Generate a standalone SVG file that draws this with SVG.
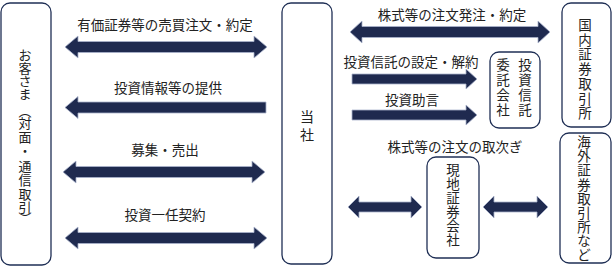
<svg xmlns="http://www.w3.org/2000/svg" width="613" height="271" viewBox="0 0 613 271">
<style>
.box{fill:#fff;stroke:#1f2f55;stroke-width:1.3}
.arr{fill:#1f2a4f;stroke:#a9b3cb;stroke-width:0.8}
.t{font-family:"Noto Sans CJK JP","Noto Sans",sans-serif;font-size:13.5px;fill:#222;text-anchor:middle}
.v{font-family:"Noto Sans CJK JP","Noto Sans",sans-serif;font-size:13.5px;fill:#222;text-anchor:middle}
</style>
<rect width="613" height="271" fill="#fff"/>
<g id="customer">
<rect class="box" x="1" y="3" width="50" height="262" rx="9"/>
<text class="v" style="font-size:13px"><tspan x="25" y="60">お</tspan><tspan x="25" y="73">客</tspan><tspan x="25" y="86">さ</tspan><tspan x="25" y="99">ま</tspan><tspan x="25" y="116">︵</tspan><tspan x="25" y="128">対</tspan><tspan x="25" y="142">面</tspan><tspan x="25" y="156">・</tspan><tspan x="25" y="171">通</tspan><tspan x="25" y="185">信</tspan><tspan x="25" y="199">取</tspan><tspan x="25" y="212">引</tspan><tspan x="25" y="223">︶</tspan></text>
</g>
<g id="company">
<rect class="box" x="282" y="3" width="50" height="261" rx="9"/>
<text class="v" style="font-size:14px"><tspan x="307" y="122">当</tspan><tspan x="307" y="140">社</tspan></text>
</g>
<g id="domestic-exchange">
<rect class="box" x="562" y="3" width="49" height="124" rx="9"/>
<text class="v"><tspan x="585" y="30">国</tspan><tspan x="585" y="44.7">内</tspan><tspan x="585" y="59.4">証</tspan><tspan x="585" y="74.1">券</tspan><tspan x="585" y="88.8">取</tspan><tspan x="585" y="103.5">引</tspan><tspan x="585" y="118.2">所</tspan></text>
</g>
<g id="trust-company">
<rect class="box" x="490" y="52" width="50" height="76" rx="9"/>
<text class="v"><tspan x="525" y="70">投</tspan><tspan x="525" y="85">資</tspan><tspan x="525" y="100">信</tspan><tspan x="525" y="115">託</tspan></text>
<text class="v"><tspan x="503" y="70">委</tspan><tspan x="503" y="85">託</tspan><tspan x="503" y="100">会</tspan><tspan x="503" y="115">社</tspan></text>
</g>
<g id="local-broker">
<rect class="box" x="427" y="157" width="52" height="101" rx="9"/>
<text class="v"><tspan x="453" y="175">現</tspan><tspan x="453" y="189">地</tspan><tspan x="453" y="203">証</tspan><tspan x="453" y="217">券</tspan><tspan x="453" y="231">会</tspan><tspan x="453" y="245">社</tspan></text>
</g>
<g id="overseas-exchange">
<rect class="box" x="560" y="133" width="51" height="130" rx="9"/>
<text class="v"><tspan x="584" y="147">海</tspan><tspan x="584" y="161">外</tspan><tspan x="584" y="175">証</tspan><tspan x="584" y="189.5">券</tspan><tspan x="584" y="203.5">取</tspan><tspan x="584" y="217.5">引</tspan><tspan x="584" y="231.5">所</tspan><tspan x="584" y="245.5">な</tspan><tspan x="584" y="260">ど</tspan></text>
</g>
<g id="connectors">
<polygon class="arr" points="65,47 78,36 78,41.5 254,41.5 254,36 267,47 254,58 254,52.5 78,52.5 78,58"/>
<polygon class="arr" points="65,107.5 78,96.5 78,102 266,102 266,113 78,113 78,118.5"/>
<polygon class="arr" points="63,172 76,161 76,166.5 252,166.5 252,161 265,172 252,183 252,177.5 76,177.5 76,183"/>
<polygon class="arr" points="65,238 78,227 78,232.5 254,232.5 254,227 267,238 254,249 254,243.5 78,243.5 78,249"/>
<polygon class="arr" points="350,32 362,21 362,26.5 538,26.5 538,21 550,32 538,43 538,37.5 362,37.5 362,43"/>
<polygon class="arr" points="352,74 466,74 466,69 477,79 466,89 466,84 352,84"/>
<polygon class="arr" points="352,110 466,110 466,105 477,115 466,125 466,120 352,120"/>
<polygon class="arr" points="348,207 359,196 359,202 411,202 411,196 422,207 411,218 411,212 359,212 359,218"/>
<polygon class="arr" points="483,207 494,196 494,202 537,202 537,196 548,207 537,218 537,212 494,212 494,218"/>
<text class="t" x="165" y="30">有価証券等の売買注文・約定</text>
<text class="t" x="168" y="93">投資情報等の提供</text>
<text class="t" x="165" y="155">募集・売出</text>
<text class="t" x="165" y="220">投資一任契約</text>
<text class="t" x="452" y="20">株式等の注文発注・約定</text>
<text class="t" x="411" y="67">投資信託の設定・解約</text>
<text class="t" x="412" y="105">投資助言</text>
<text class="t" x="455" y="152">株式等の注文の取次ぎ</text>
</g>
</svg>
